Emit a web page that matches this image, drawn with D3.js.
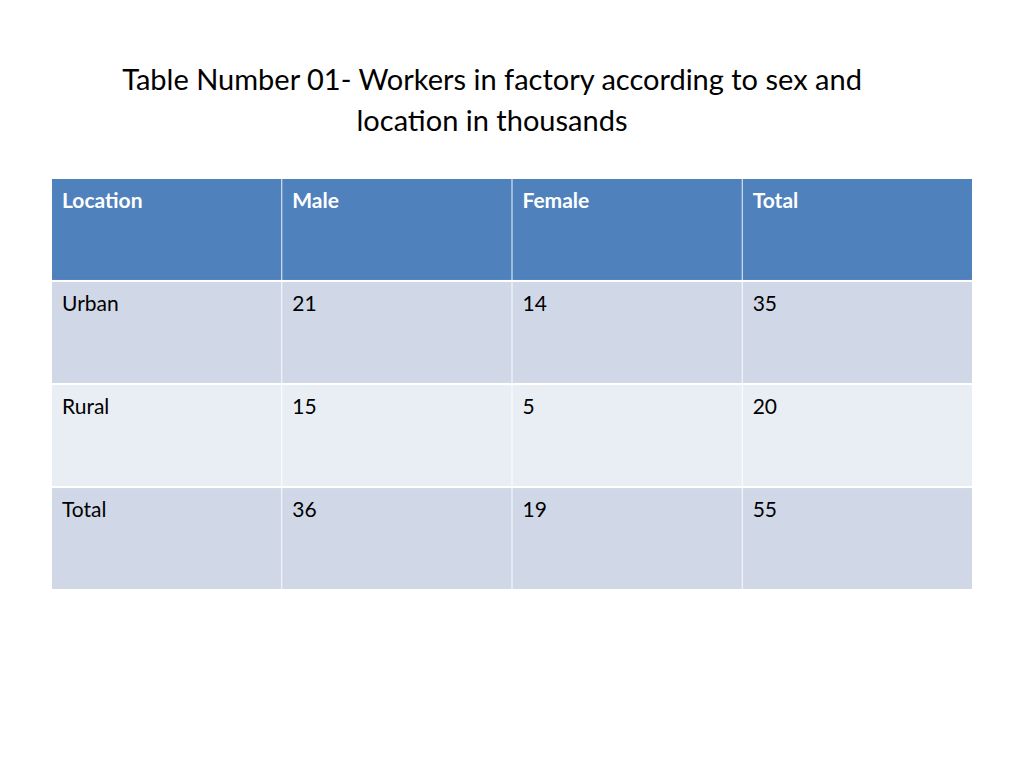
<!DOCTYPE html>
<html><head><meta charset="utf-8">
<script src="https://cdn.jsdelivr.net/npm/d3@7"></script>
<style>body{margin:0;background:#fff}</style>
</head><body><svg id="c" width="1024" height="768"></svg>
<script>
// Table data
const titleLines = ['Table Number 01-  Workers in factory according to sex and', 'location in thousands'];
const columns = ['Location', 'Male', 'Female', 'Total'];
const rowLabels = ['Urban', 'Rural', 'Total'];
const male = [21, 15, 36];
const female = [14, 5, 19];
const total = [35, 20, 55];

const FONT = "Lato, 'Open Sans', sans-serif";
const HEAD = '#4F81BD', ODD = '#D0D8E8', EVEN = '#E9EDF4';

const svg = d3.select('#c');

svg.selectAll('.title').data(titleLines).join('text')
  .attr('x', (d, i) => i === 0 ? 492 : 492)
  .attr('y', (d, i) => 90 + i * 41)
  .attr('text-anchor', 'middle')
  .style('font-family', FONT).style('font-size', '29px').style('fill', '#000')
  .text(d => d);

const rows = [columns].concat(rowLabels.map((r, i) => [r, male[i], female[i], total[i]]));

const x = d3.scaleBand().domain(d3.range(columns.length)).range([52, 972]).paddingInner(0.004);
const y = d3.scaleBand().domain(d3.range(rows.length)).range([179, 589]).paddingInner(0.02);

const cells = rows.flatMap((r, ri) => r.map((v, ci) => ({ v, ri, ci })));

svg.selectAll('rect.cell').data(cells).join('rect')
  .attr('class', 'cell')
  .attr('x', d => x(d.ci)).attr('y', d => y(d.ri))
  .attr('width', x.bandwidth()).attr('height', y.bandwidth())
  .attr('fill', d => d.ri === 0 ? HEAD : (d.ri % 2 ? ODD : EVEN));

svg.selectAll('text.cell').data(cells).join('text')
  .attr('class', 'cell')
  .attr('x', d => x(d.ci) + 10).attr('y', d => y(d.ri) + 29)
  .style('font-family', FONT).style('font-size', '21px')
  .style('font-weight', d => d.ri === 0 ? 'bold' : 'normal')
  .style('fill', d => d.ri === 0 ? '#fff' : '#000')
  .text(d => d.v);
</script></body></html>
